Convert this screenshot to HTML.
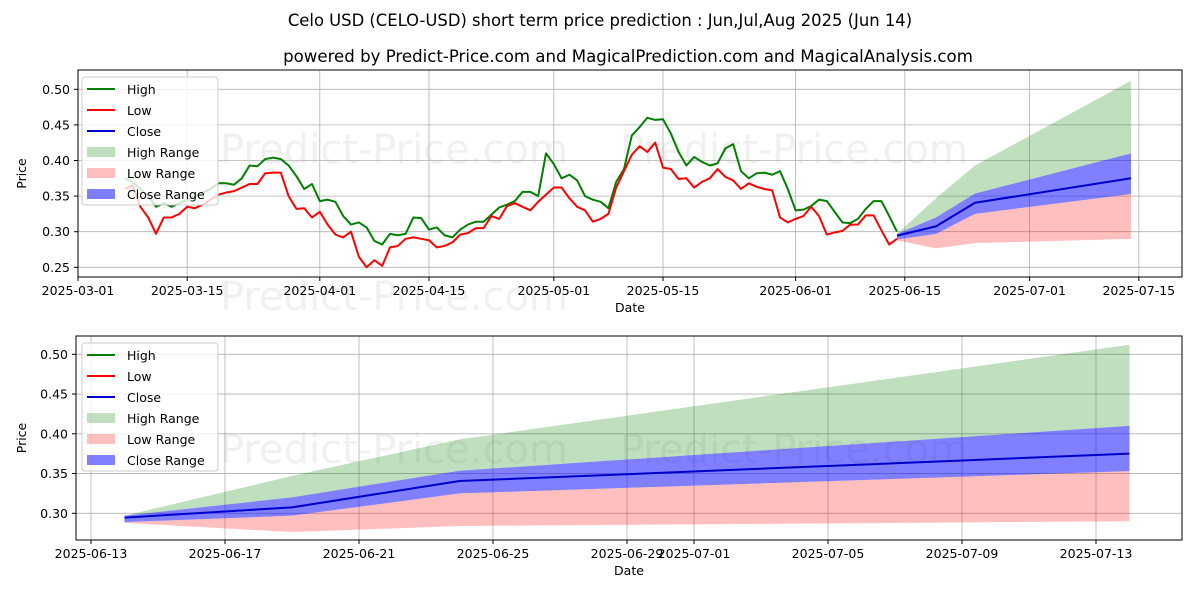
<!DOCTYPE html>
<html><head><meta charset="utf-8"><style>
body{margin:0;background:#fff;}
svg{display:block;font-family:"DejaVu Sans","Liberation Sans",sans-serif;}
</style></head><body>
<svg id="c" width="1200" height="600" viewBox="0 0 1200 600"></svg>
<script>
const histHigh=[0.375,0.37,0.36,0.35,0.335,0.34,0.335,0.34,0.345,0.35,0.355,0.36,0.368,0.368,0.366,0.375,0.393,0.392,0.402,0.404,0.402,0.393,0.378,0.36,0.367,
0.343,0.345,0.342,0.322,0.31,0.313,0.306,0.287,0.282,0.297,0.295,0.297,0.32,0.319,0.303,0.306,0.295,0.292,0.303,0.31,0.314,0.314,0.324,0.334,0.338,0.343,0.356,0.356,0.35,0.41,
0.395,0.375,0.38,0.372,0.35,0.345,0.342,0.333,0.37,0.388,0.435,0.447,0.46,0.457,0.458,0.438,0.412,0.393,0.405,0.398,0.393,0.396,0.417,0.423,0.385,0.375,0.382,0.383,0.38,0.385,0.36,
0.33,0.331,0.336,0.345,0.343,0.328,0.313,0.312,0.318,0.332,0.343,0.343,0.322,0.3];
const histLow=[0.36,0.365,0.335,0.32,0.297,0.32,0.32,0.325,0.335,0.333,0.338,0.345,0.352,0.355,0.357,0.362,0.367,0.367,0.382,0.383,0.383,0.35,0.332,0.333,0.32,
0.328,0.31,0.296,0.292,0.3,0.265,0.25,0.26,0.252,0.278,0.28,0.29,0.292,0.29,0.288,0.278,0.28,0.285,0.296,0.298,0.305,0.305,0.322,0.318,0.336,0.34,0.335,0.33,0.342,0.352,
0.362,0.362,0.347,0.335,0.33,0.314,0.318,0.325,0.362,0.385,0.408,0.42,0.412,0.425,0.39,0.388,0.374,0.375,0.362,0.37,0.375,0.388,0.377,0.372,0.36,0.368,0.363,0.36,0.358,0.32,0.313,
0.318,0.322,0.335,0.322,0.296,0.299,0.301,0.31,0.31,0.323,0.323,0.302,0.282,0.29];
const histStart="2025-03-07";
const predDates=["2025-06-14","2025-06-19","2025-06-24","2025-07-14"];
const predClose=[0.2945,0.3075,0.3406,0.375];
const closeHi=[0.297,0.320,0.3536,0.410];
const closeLo=[0.289,0.297,0.325,0.353];
const highTop=[0.297,0.347,0.393,0.512];
const lowBot=[0.288,0.2765,0.284,0.29];
const topXTicks=["2025-03-01","2025-03-15","2025-04-01","2025-04-15","2025-05-01","2025-05-15","2025-06-01","2025-06-15","2025-07-01","2025-07-15"];
const topYTicks=[0.25,0.30,0.35,0.40,0.45,0.50];
const botXTicks=["2025-06-13","2025-06-17","2025-06-21","2025-06-25","2025-06-29","2025-07-01","2025-07-05","2025-07-09","2025-07-13"];
const botYTicks=[0.30,0.35,0.40,0.45,0.50];

const NS="http://www.w3.org/2000/svg";
const svg=document.getElementById('c');
function el(t,a,p){const e=document.createElementNS(NS,t);for(const k in a)e.setAttribute(k,a[k]);(p||svg).appendChild(e);return e;}
const day=d=>Date.parse(d+"T00:00:00Z")/86400000;
function addDays(d,n){return new Date((day(d)+n)*86400000).toISOString().slice(0,10);}

function txt(x,y,s,size,anchor,name,extra){const t=el('text',Object.assign({x:x,y:y,'font-size':size,'text-anchor':anchor||'middle',fill:'#000'},extra||{}));t.textContent=s;return t;}

txt(600,26,"Celo USD (CELO-USD) short term price prediction : Jun,Jul,Aug 2025 (Jun 14)",16.4,'middle','chart-title');
txt(628,62,"powered by Predict-Price.com and MagicalPrediction.com and MagicalAnalysis.com",16.6,'middle','chart-subtitle');

function panel(cfg){
  const g=el('g',{});
  
  
  const X=d=>cfg.x0+(day(d)-day(cfg.d0))*cfg.pxDay;
  const Y=v=>cfg.yRef-(v-cfg.vRef)/0.05*cfg.pxStep;
  cfg.wm.forEach(w=>{const t=txt(w[0],w[1],"Predict-Price.com",40,'start','watermark',{fill:'#000','fill-opacity':'0.06'});g.appendChild(t);});
  cfg.xt.forEach(d=>{const x=X(d);const l=el('line',{x1:x,x2:x,y1:cfg.top,y2:cfg.bot,stroke:'#b0b0b0','stroke-width':0.8},g);
    el('line',{x1:x,x2:x,y1:cfg.bot,y2:cfg.bot+4,stroke:'#000'},g);
    const t=txt(x,cfg.bot+18,d,12.5,'middle','x-tick-label');g.appendChild(t);});
  cfg.yt.forEach(v=>{const y=Y(v);const l=el('line',{x1:cfg.left,x2:cfg.right,y1:y,y2:y,stroke:'#b0b0b0','stroke-width':0.8},g);
    el('line',{x1:cfg.left-4,x2:cfg.left,y1:y,y2:y,stroke:'#000'},g);
    const t=txt(cfg.left-8,y+4.5,v.toFixed(2),12.5,'end','y-tick-label');g.appendChild(t);});
  const poly=(top,bot,color,op,name)=>{let pts=predDates.map((d,i)=>X(d)+','+Y(top[i]));for(let i=predDates.length-1;i>=0;i--)pts.push(X(predDates[i])+','+Y(bot[i]));
    const p=el('polygon',{points:pts.join(' '),fill:color,'fill-opacity':op},g);};
  poly(highTop,closeHi,'#008000',0.25,'high-range');
  poly(closeLo,lowBot,'#ff0000',0.25,'low-range');
  poly(closeHi,closeLo,'#0000ff',0.5,'close-range');
  const line=(dates,vals,color,name)=>{const p=el('polyline',{points:vals.map((v,i)=>X(dates[i])+','+Y(v)).join(' '),fill:'none',stroke:color,'stroke-width':2,'stroke-linejoin':'round'},g);};
  if(cfg.hist){const hd=histHigh.map((_,i)=>addDays(histStart,i));
    line(hd,histHigh,'#008000','high-line');line(hd,histLow,'#ff0000','low-line');}
  line(predDates,predClose,'#0000cc','close-line');
  const fr=el('rect',{x:cfg.left,y:cfg.top,width:cfg.right-cfg.left,height:cfg.bot-cfg.top,fill:'none',stroke:'#000','stroke-width':1},g);
  g.appendChild(txt((cfg.left+cfg.right)/2,cfg.bot+35,"Date",12.5,'middle','x-axis-title'));
  g.appendChild(txt(0,0,"Price",12.5,'middle','y-axis-title',{transform:`translate(26,${(cfg.top+cfg.bot)/2}) rotate(-90)`}));
  const lg=el('g',{},g);
  const ly=cfg.top+7;
  el('rect',{x:82,y:ly,width:136,height:128,rx:3,fill:'#fff','fill-opacity':0.8,stroke:'#ccc'},lg);
  const items=[['High','#008000','line'],['Low','#ff0000','line'],['Close','#0000cc','line'],['High Range','rgba(0,128,0,0.25)','box'],['Low Range','rgba(255,0,0,0.25)','box'],['Close Range','rgba(0,0,255,0.5)','box']];
  items.forEach((it,i)=>{const yy=ly+12+i*21;
    if(it[2]=='line')el('line',{x1:87,x2:115,y1:yy,y2:yy,stroke:it[1],'stroke-width':2},lg);
    else el('rect',{x:87,y:yy-5,width:28,height:10,fill:it[1]},lg);
    lg.appendChild(txt(127,yy+5,it[0],12.5,'start','legend-entry'));});
}
panel({name:'history-panel',left:78,right:1182,top:70,bot:277,x0:78,d0:"2025-03-01",pxDay:7.8,yRef:267.3,vRef:0.25,pxStep:35.6,xt:topXTicks,yt:topYTicks,hist:true,wm:[[220,163],[620,163],[220,310]]});
panel({name:'forecast-panel',left:76,right:1182,top:336,bot:540,x0:91,d0:"2025-06-13",pxDay:33.5,yRef:513.3,vRef:0.30,pxStep:39.75,xt:botXTicks,yt:botYTicks,hist:false,wm:[[220,463],[620,463]]});
</script>
</body></html>
